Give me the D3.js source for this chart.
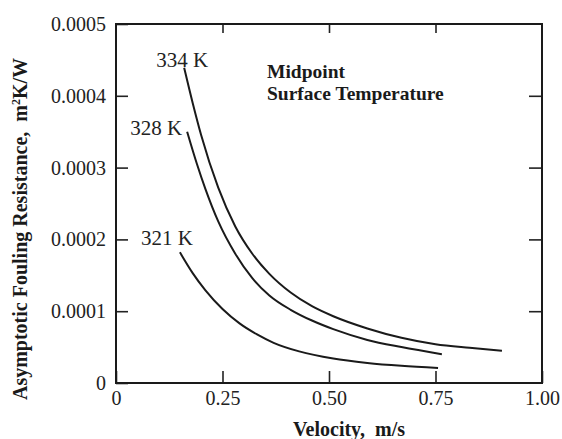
<!DOCTYPE html>
<html>
<head>
<meta charset="utf-8">
<script src="https://cdn.jsdelivr.net/npm/d3@7"></script>
<style>
  body { margin: 0; background: #fff; }
  svg { display: block; font-family: "Liberation Serif", "DejaVu Serif", serif; }
  .tick text { font-family: "Liberation Serif", "DejaVu Serif", serif; font-size: 20px; fill: #222; }
  .tick line { stroke: #222; stroke-width: 1.6; }
</style>
</head>
<body>
<div id="chart"></div>
<script>
// chart size and plot box
let W = 562;
let H = 439;
let M = { left: 116, right: 20, top: 24, bottom: 56 };

// velocity ticks (m/s)
let xTicks = [0, 0.25, 0.5, 0.75, 1.0];
let xTickLabels = ['0', '0.25', '0.50', '0.75', '1.00'];

// fouling resistance ticks (m2K/W)
let yTicks = [0, 0.0001, 0.0002, 0.0003, 0.0004, 0.0005];
let yTickLabels = ['0', '0.0001', '0.0002', '0.0003', '0.0004', '0.0005'];

// curve names
let series = ['334 K', '328 K', '321 K'];

// velocity
let vel334 = [0.160, 0.18, 0.20, 0.24, 0.28, 0.32, 0.36, 0.41, 0.46, 0.51, 0.59, 0.67, 0.75, 0.83, 0.906];
let vel328 = [0.167, 0.19, 0.21, 0.24, 0.28, 0.32, 0.36, 0.41, 0.46, 0.51, 0.59, 0.67, 0.765];
let vel321 = [0.150, 0.18, 0.21, 0.25, 0.29, 0.33, 0.37, 0.43, 0.51, 0.59, 0.67, 0.756];

// resistance values, in units of 1e-4 m2K/W
let res334 = [4.39, 3.90, 3.45, 2.72, 2.18, 1.80, 1.52, 1.26, 1.07, 0.93, 0.76, 0.63, 0.54, 0.49, 0.45];
let res328 = [3.50, 3.05, 2.70, 2.25, 1.80, 1.46, 1.22, 1.02, 0.87, 0.75, 0.60, 0.50, 0.40];
let res321 = [1.82, 1.53, 1.29, 1.03, 0.83, 0.68, 0.56, 0.44, 0.34, 0.28, 0.24, 0.21];

let svg = d3.select('#chart').append('svg')
    .attr('width', W)
    .attr('height', H);

let xScale = d3.scaleLinear()
    .domain([0, 1])
    .range([M.left, W - M.right]);

let yScale = d3.scaleLinear()
    .domain([0, 0.0005])
    .range([H - M.bottom, M.top]);

// Bottom axis with inward ticks
svg.append('g').attr('class', 'axis')
    .attr('transform', `translate(0, ${yScale(0)})`)
    .call(d3.axisBottom(xScale).tickValues(xTicks).tickSize(-12).tickPadding(8)
        .tickFormat((d, i) => xTickLabels[i]))
    .call(g => g.select('.domain').remove());

// Top axis, marks only
svg.append('g')
    .attr('transform', `translate(0, ${yScale(0.0005)})`)
    .call(d3.axisTop(xScale).tickValues(xTicks.slice(1, -1)).tickSize(-9).tickFormat(''))
    .call(g => g.select('.domain').remove());

// Left axis with inward ticks
svg.append('g').attr('class', 'axis')
    .attr('transform', `translate(${xScale(0)}, 0)`)
    .call(d3.axisLeft(yScale).tickValues(yTicks).tickSize(-12).tickPadding(10)
        .tickFormat((d, i) => yTickLabels[i]))
    .call(g => g.select('.domain').remove());

// Right axis, marks only
svg.append('g')
    .attr('transform', `translate(${xScale(1)}, 0)`)
    .call(d3.axisRight(yScale).tickValues(yTicks.slice(1, -1)).tickSize(-13).tickFormat(''))
    .call(g => g.select('.domain').remove());

// Plot frame
svg.append('rect')
    .attr('x', xScale(0))
    .attr('y', yScale(0.0005))
    .attr('width', xScale(1) - xScale(0))
    .attr('height', yScale(0) - yScale(0.0005))
    .attr('fill', 'none')
    .attr('stroke', '#1a1a1a')
    .attr('stroke-width', 2);

// Build the curve rows
let curves = [
    { name: series[0], rows: vel334.map((v, i) => ({ v: v, r: res334[i] * 1e-4 })) },
    { name: series[1], rows: vel328.map((v, i) => ({ v: v, r: res328[i] * 1e-4 })) },
    { name: series[2], rows: vel321.map((v, i) => ({ v: v, r: res321[i] * 1e-4 })) }
];

let line = d3.line()
    .x(d => xScale(d.v))
    .y(d => yScale(d.r))
    .curve(d3.curveMonotoneX);

svg.selectAll('path.curve').data(curves).enter().append('path')
    .attr('class', 'curve')
    .attr('d', d => line(d.rows))
    .attr('fill', 'none')
    .attr('stroke', '#1a1a1a')
    .attr('stroke-width', 2);

// Curve labels sit near each curve's start
let labelShift = [{ dx: -2, dy: -1 }, { dx: -31, dy: 3 }, { dx: -13, dy: -7 }];
svg.selectAll('text.curve-label').data(curves).enter().append('text')
    .attr('class', 'curve-label')
    .attr('x', (d, i) => xScale(d.rows[0].v) + labelShift[i].dx)
    .attr('y', (d, i) => yScale(d.rows[0].r) + labelShift[i].dy)
    .attr('text-anchor', 'middle')
    .attr('font-size', 21)
    .attr('fill', '#222')
    .text(d => d.name);

// Note in the plot
let note = svg.append('text')
    .attr('font-size', 19.5)
    .attr('font-weight', 'bold')
    .attr('fill', '#1a1a1a');
note.append('tspan').attr('x', 267).attr('y', 78).text('Midpoint');
note.append('tspan').attr('x', 267).attr('y', 99.5).text('Surface Temperature');

// Axis titles
svg.append('text')
    .attr('x', 349)
    .attr('y', 436)
    .attr('text-anchor', 'middle')
    .attr('font-size', 20)
    .attr('font-weight', 'bold')
    .attr('fill', '#1a1a1a')
    .attr('xml:space', 'preserve')
    .text('Velocity,  m/s');

let yTitle = svg.append('text')
    .attr('transform', 'translate(27, 229) rotate(-90)')
    .attr('text-anchor', 'middle')
    .attr('font-size', 20)
    .attr('font-weight', 'bold')
    .attr('fill', '#1a1a1a')
    .attr('xml:space', 'preserve');
yTitle.append('tspan').text('Asymptotic Fouling Resistance,  m');
yTitle.append('tspan').attr('dy', -7).attr('font-size', 12).text('2');
yTitle.append('tspan').attr('dy', 7).text('K/W');
</script>
</body>
</html>
